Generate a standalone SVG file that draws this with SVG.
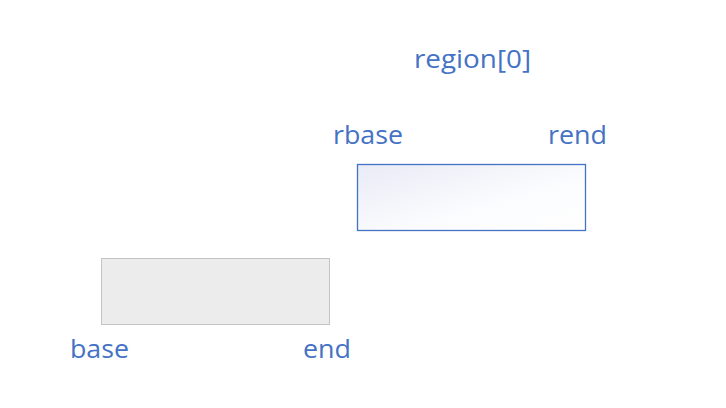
<svg xmlns="http://www.w3.org/2000/svg" width="726" height="408" viewBox="0 0 726 408">
<defs>
<linearGradient id="g1" x1="0" y1="0" x2="1" y2="1">
<stop offset="0" stop-color="#e9ebf6"/>
<stop offset="0.6" stop-color="#fbfcfe"/>
<stop offset="1" stop-color="#ffffff"/>
</linearGradient>
<style>
.t{font-family:"Open Sans","Noto Sans","Liberation Sans",sans-serif;font-size:25.5px;fill:#4472c4;text-anchor:middle}
</style>
</defs>
<rect width="726" height="408" fill="#ffffff"/>
<g id="region">
<rect x="357.5" y="164.5" width="228" height="66" fill="url(#g1)" stroke="#4472c4" stroke-width="1.3"/>
<text class="t" x="472.5" y="68" textLength="117" lengthAdjust="spacingAndGlyphs">region[0]</text>
<text class="t" x="368" y="144" textLength="70" lengthAdjust="spacingAndGlyphs">rbase</text>
<text class="t" x="577.5" y="144" textLength="59" lengthAdjust="spacingAndGlyphs">rend</text>
</g>
<g id="block">
<rect x="101.5" y="258.5" width="228" height="66" fill="#ececec" stroke="#c4c4c4" stroke-width="1"/>
<text class="t" x="99.5" y="358" textLength="59" lengthAdjust="spacingAndGlyphs">base</text>
<text class="t" x="327" y="358" textLength="48" lengthAdjust="spacingAndGlyphs">end</text>
</g>
<g id="connectors"/>
</svg>
